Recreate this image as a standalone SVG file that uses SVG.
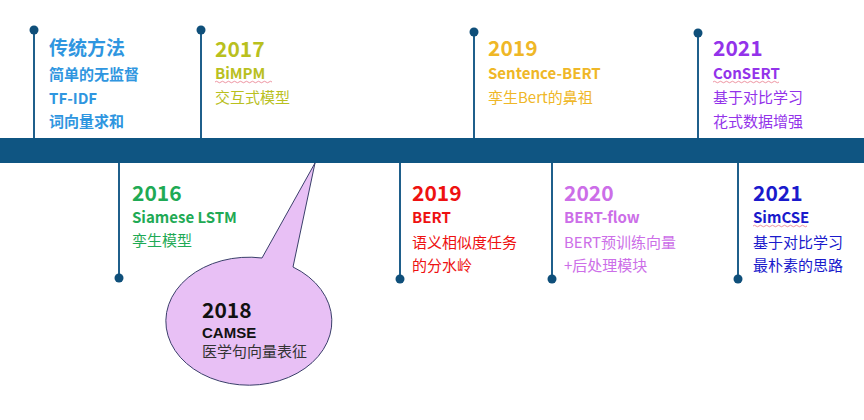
<svg xmlns="http://www.w3.org/2000/svg" width="864" height="420" viewBox="0 0 864 420">
<style>
text{font-family:"Noto Sans CJK SC","Noto Sans",sans-serif}
.yr{font-size:21px;font-weight:700}
.nm{font-size:15px;font-weight:700}
.ds{font-size:15px}
.stem{stroke:#1f5f8b;stroke-width:2}
.dot{fill:#0f4f7a}
.sq{fill:none;stroke:#e87a8a;stroke-width:0.8}
</style>
<rect width="864" height="420" fill="#fff"/>
<g id="connectors">
<rect x="0" y="138" width="864" height="25" fill="#0f5582"/>
<line class="stem" x1="34" y1="30" x2="34" y2="138"/><circle class="dot" cx="34" cy="30" r="4.5"/>
<line class="stem" x1="201" y1="30" x2="201" y2="138"/><circle class="dot" cx="201" cy="30" r="4.5"/>
<line class="stem" x1="474" y1="32" x2="474" y2="138"/><circle class="dot" cx="474" cy="32" r="4.5"/>
<line class="stem" x1="698" y1="33" x2="698" y2="138"/><circle class="dot" cx="698" cy="33" r="4.5"/>
<line class="stem" x1="119" y1="163" x2="119" y2="278"/><circle class="dot" cx="119" cy="278" r="4.5"/>
<line class="stem" x1="400" y1="163" x2="400" y2="279"/><circle class="dot" cx="400" cy="279" r="4.5"/>
<line class="stem" x1="552" y1="163" x2="552" y2="279"/><circle class="dot" cx="552" cy="279" r="4.5"/>
<line class="stem" x1="738" y1="163" x2="738" y2="279"/><circle class="dot" cx="738" cy="279" r="4.5"/>
</g>
<g id="n-trad" fill="#2f96e0">
<text x="49" y="55" style="font-size:19px;font-weight:700">传统方法</text>
<text x="49" y="80" class="nm">简单的无监督</text>
<text x="49" y="104" class="nm">TF-IDF</text>
<text x="49" y="127" class="nm">词向量求和</text>
</g>
<g id="n-2017" fill="#b9c01e">
<text x="215" y="57" class="yr">2017</text>
<text x="215" y="79" class="nm">BiMPM</text>
<path class="sq" d="M215 82 q1.5 -1.5 3 0 t3 0 t3 0 t3 0 t3 0 t3 0 t3 0 t3 0 t3 0 t3 0 t3 0 t3 0 t3 0 t3 0 t3 0 t3 0 t3 0 t3 0 t3 0"/>
<text x="215" y="103" class="ds">交互式模型</text>
</g>
<g id="n-2019a" fill="#efb727">
<text x="488" y="56" class="yr">2019</text>
<text x="488" y="79" class="nm">Sentence-BERT</text>
<text x="488" y="103" class="ds">孪生Bert的鼻祖</text>
</g>
<g id="n-2021a" fill="#9333ea">
<text x="713" y="56" class="yr">2021</text>
<text x="713" y="79" class="nm">ConSERT</text>
<path class="sq" d="M713 82 q1.5 -1.5 3 0 t3 0 t3 0 t3 0 t3 0 t3 0 t3 0 t3 0 t3 0 t3 0 t3 0 t3 0 t3 0 t3 0 t3 0 t3 0 t3 0 t3 0 t3 0 t3 0 t3 0 t3 0"/>
<text x="713" y="103" class="ds">基于对比学习</text>
<text x="713" y="127" class="ds">花式数据增强</text>
</g>
<g id="n-2016" fill="#1faa55">
<text x="132" y="201" class="yr">2016</text>
<text x="132" y="223" class="nm">Siamese LSTM</text>
<text x="132" y="246" class="ds">孪生模型</text>
</g>
<g id="n-2019b" fill="#ee1111">
<text x="412" y="201" class="yr">2019</text>
<text x="412" y="223" class="nm">BERT</text>
<text x="412" y="248" class="ds">语义相似度任务</text>
<text x="412" y="271" class="ds">的分水岭</text>
</g>
<g id="n-2020" fill="#cc6ee8">
<text x="564" y="201" class="yr">2020</text>
<text x="564" y="223" class="nm">BERT-flow</text>
<text x="564" y="248" class="ds">BERT预训练向量</text>
<text x="564" y="271" class="ds">+后处理模块</text>
</g>
<g id="n-2021b" fill="#1a1acc">
<text x="753" y="201" class="yr">2021</text>
<text x="753" y="223" class="nm">SimCSE</text>
<path class="sq" d="M753 226 q1.5 -1.5 3 0 t3 0 t3 0 t3 0 t3 0 t3 0 t3 0 t3 0 t3 0 t3 0 t3 0 t3 0 t3 0 t3 0 t3 0 t3 0 t3 0 t3 0"/>
<text x="753" y="248" class="ds">基于对比学习</text>
<text x="753" y="271" class="ds">最朴素的思路</text>
</g>
<g id="n-2018">
<path d="M315 163 L293 267 A83 64 0 1 1 262 258 Z" fill="#e8c0f5" stroke="#3a3f6a" stroke-width="1"/>
<text x="202" y="318" class="yr" fill="#111">2018</text>
<text x="202" y="338" style="font-family:'Liberation Sans',Arial,sans-serif;font-size:15px;font-weight:700" fill="#111">CAMSE</text>
<text x="202" y="357" class="ds" fill="#333">医学句向量表征</text>
</g>
</svg>
